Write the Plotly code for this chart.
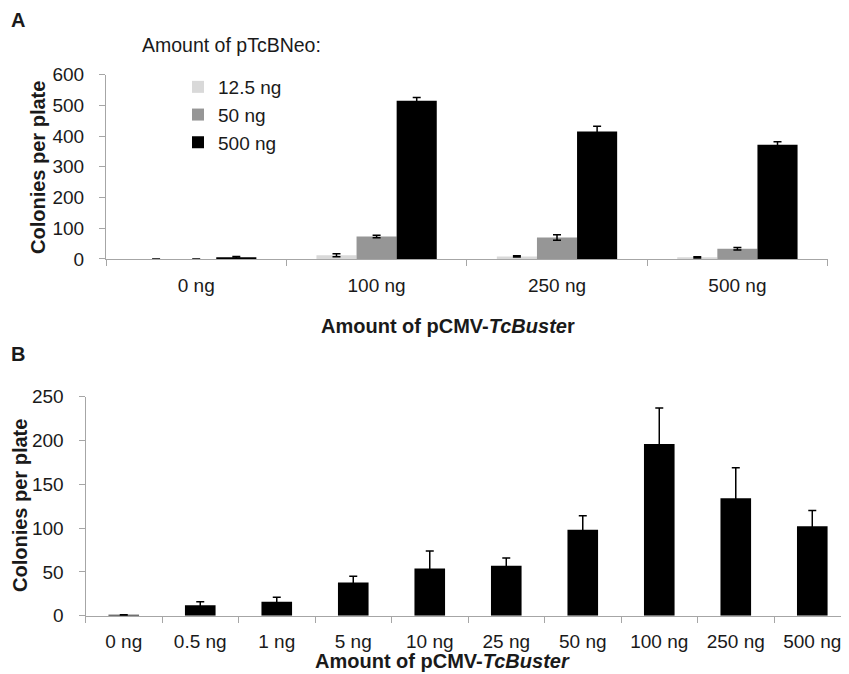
import plotly.graph_objects as go

# ---------------- Panel A data ----------------
cats_a = ["0 ng", "100 ng", "250 ng", "500 ng"]
series_names = ["12.5 ng", "50 ng", "500 ng"]
vals_125 = [0, 12, 8, 5]
err_125 = [0, 5, 2, 2]
vals_50 = [0, 73, 70, 33]
err_50 = [0, 4, 9, 4]
vals_500 = [5, 515, 415, 372]
err_500 = [3, 11, 17, 10]
colors_a = ["#D9D9D9", "#969696", "#000000"]

# ---------------- Panel B data ----------------
cats_b = ["0 ng", "0.5 ng", "1 ng", "5 ng", "10 ng", "25 ng", "50 ng", "100 ng", "250 ng", "500 ng"]
vals_b = [0.5, 12, 16, 38, 54, 57, 98, 196, 134, 102]
err_b = [0.5, 4, 5, 7, 20, 9, 16, 41, 35, 18]

OFF = 8  # default page body margin
W, H = 849 - OFF, 674 - OFF
FONT = "Liberation Sans, Arial, sans-serif"
AXIS_GREY = "#A6A6A6"
TXT = "#1a1a1a"


def px_x(p):
    return (p - OFF) / W


def px_y(p):
    return 1 - (p - OFF) / H


fig = go.Figure()

for name, vals, errs, col in zip(series_names, [vals_125, vals_50, vals_500],
                                 [err_125, err_50, err_500], colors_a):
    fig.add_trace(go.Bar(
        x=cats_a, y=vals, name=name,
        marker=dict(color=col, line=dict(width=0)),
        error_y=dict(type="data", array=errs, visible=True, color="black",
                     thickness=1.5, width=4),
        xaxis="x", yaxis="y", showlegend=True,
    ))

fig.add_trace(go.Bar(
    x=cats_b, y=vals_b, name="B", width=0.4,
    marker=dict(color="#000000", line=dict(width=0)),
    error_y=dict(type="data", array=err_b, visible=True, color="black",
                 thickness=1.5, width=4),
    xaxis="x2", yaxis="y2", showlegend=False,
))

axis_common = dict(showline=True, linecolor=AXIS_GREY, linewidth=1,
                   ticks="outside", ticklen=6, tickcolor=AXIS_GREY, tickwidth=1,
                   showgrid=False, zeroline=False, automargin=False,
                   tickfont=dict(family=FONT, size=19, color=TXT))

fig.update_layout(
    width=W, height=H,
    margin=dict(l=0, r=0, t=0, b=0),
    paper_bgcolor="white", plot_bgcolor="white",
    barmode="group", bargap=0.333, bargroupgap=0,
    font=dict(family=FONT, size=19, color=TXT),
    xaxis=dict(domain=[px_x(106), px_x(827.6)], anchor="y", type="category",
               range=[-0.5, 3.5], tickson="boundaries", ticklabelstandoff=9,
               **axis_common),
    yaxis=dict(domain=[px_y(258.9), px_y(74.7)], anchor="x", range=[0, 600],
               dtick=100, ticklabelstandoff=11, **axis_common),
    xaxis2=dict(domain=[px_x(85.5), 1.0], anchor="y2", type="category",
                range=[-0.5, 9.48], tickson="boundaries", ticklabelstandoff=8,
                **axis_common),
    yaxis2=dict(domain=[px_y(615.7), px_y(396.7)], anchor="x2", range=[0, 250],
                dtick=50, ticklabelstandoff=11, **axis_common),
    legend=dict(x=px_x(178), y=px_y(68), xanchor="left", yanchor="top",
                bgcolor="rgba(0,0,0,0)", traceorder="normal",
                font=dict(family=FONT, size=19, color=TXT)),
)

ann = [
    dict(text="<b>A</b>", x=px_x(18), y=1.0, size=20, angle=0, xa="center", ya="top"),
    dict(text="<b>B</b>", x=px_x(18), y=px_y(354), size=20, angle=0, xa="center", ya="middle"),
    dict(text="Amount of pTcBNeo:", x=px_x(141), y=px_y(45), size=19.5, angle=0, xa="left", ya="middle"),
    dict(text="<b>Amount of pCMV-<i>TcBuste</i>r</b>", x=px_x(447.5), y=px_y(326), size=20, angle=0, xa="center", ya="middle"),
    dict(text="<b>Amount of pCMV-<i>TcBuster</i></b>", x=px_x(442), y=px_y(661), size=20, angle=0, xa="center", ya="middle"),
    dict(text="<b>Colonies per plate</b>", x=px_x(38), y=px_y(168), size=20, angle=-90, xa="center", ya="middle"),
    dict(text="<b>Colonies per plate</b>", x=0.0, y=px_y(506), size=20, angle=-90, xa="left", ya="middle"),
]
for a in ann:
    fig.add_annotation(text=a["text"], x=a["x"], y=a["y"], xref="paper", yref="paper",
                       xanchor=a["xa"], yanchor=a["ya"], showarrow=False,
                       textangle=a["angle"], borderpad=0,
                       font=dict(family=FONT, size=a["size"], color=TXT))

fig.write_html("out.html")
